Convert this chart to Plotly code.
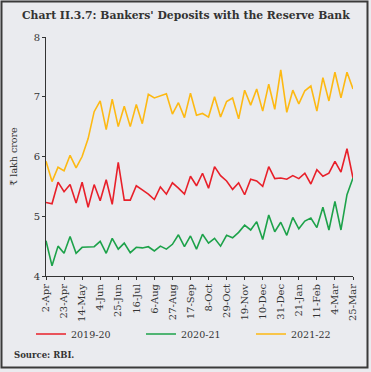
import pandas as pd
import plotly.graph_objects as go

# Weekly reporting Fridays (2-Apr ... 25-Mar), 52 weeks
weeks = pd.date_range("2021-04-02", periods=52, freq="7D")
week_labels = [f"{d.day}-{d.strftime('%b')}" for d in weeks]
tick_labels = week_labels[::3]

s2019_20 = [5.23, 5.21, 5.57, 5.41, 5.53, 5.22, 5.57, 5.15, 5.53, 5.26,
            5.61, 5.20, 5.90, 5.27, 5.27, 5.51, 5.44, 5.37, 5.28, 5.49,
            5.37, 5.56, 5.47, 5.37, 5.67, 5.51, 5.72, 5.47, 5.83, 5.68,
            5.59, 5.45, 5.56, 5.36, 5.62, 5.59, 5.50, 5.83, 5.63, 5.64,
            5.62, 5.68, 5.63, 5.72, 5.54, 5.78, 5.67, 5.72, 5.92, 5.74,
            6.13, 5.64]
s2020_21 = [4.59, 4.17, 4.50, 4.38, 4.66, 4.38, 4.48, 4.48, 4.49, 4.58,
            4.38, 4.63, 4.45, 4.55, 4.39, 4.48, 4.47, 4.49, 4.42, 4.50,
            4.45, 4.53, 4.69, 4.49, 4.67, 4.45, 4.70, 4.55, 4.63, 4.50,
            4.68, 4.64, 4.73, 4.85, 4.77, 4.91, 4.61, 5.02, 4.74, 4.90,
            4.68, 4.98, 4.79, 4.92, 4.97, 4.81, 5.15, 4.77, 5.25, 4.77,
            5.36, 5.64]
s2021_22 = [5.92, 5.58, 5.82, 5.76, 6.02, 5.81, 6.00, 6.30, 6.75, 6.93,
            6.45, 6.96, 6.50, 6.84, 6.50, 6.87, 6.55, 7.04, 6.98, 7.01,
            7.05, 6.71, 6.90, 6.65, 7.06, 6.69, 6.72, 6.66, 7.00, 6.66,
            6.92, 6.98, 6.63, 7.11, 6.86, 7.13, 6.76, 7.21, 6.79, 7.45,
            6.74, 7.11, 6.88, 7.10, 7.18, 6.76, 7.32, 6.93, 7.41, 6.98,
            7.41, 7.13]

series = [("2019-20", s2019_20, "#E8202A"),
          ("2020-21", s2020_21, "#1DA24A"),
          ("2021-22", s2021_22, "#FDB913")]

FONT = "DejaVu Serif"
W, H = 371, 372

def fx(x):
    return x / W

def fy(y):
    return 1 - y / H

fig = go.Figure()
for name, vals, col in series:
    fig.add_trace(go.Scatter(x=week_labels, y=vals, mode="lines", name=name,
                             line=dict(color=col, width=1.6)))

fig.update_layout(
    width=W, height=H,
    margin=dict(l=0, r=0, t=0, b=0, pad=0),
    paper_bgcolor="#EAEBEF",
    plot_bgcolor="#EAEBEF",
    font=dict(family=FONT, size=10, color="#333333"),
    title=dict(text="<b>Chart II.3.7: Bankers' Deposits with the Reserve Bank</b>",
               x=fx(22), xanchor="left", xref="paper",
               y=fy(15), yanchor="middle", yref="paper",
               font=dict(family=FONT, size=10.8, color="#333333")),
    showlegend=True,
    legend=dict(orientation="h", x=fx(31), xanchor="left", y=fy(334), yanchor="middle",
                font=dict(family=FONT, size=9.5, color="#333333"),
                entrywidth=65, entrywidthmode="pixels",
                bgcolor="rgba(0,0,0,0)", traceorder="normal"),
    shapes=[dict(type="rect", xref="paper", yref="paper",
                 x0=fx(1.5), x1=fx(367.5), y0=fy(367.5), y1=fy(1.5),
                 line=dict(color="#3a3a3a", width=2), layer="above")],
    annotations=[dict(text="<b>Source: RBI.</b>", xref="paper", yref="paper",
                      x=fx(12), y=fy(355), xanchor="left", yanchor="middle",
                      showarrow=False, font=dict(family=FONT, size=8.5, color="#333333"))],
)

fig.update_xaxes(type="category", range=[0, 51], domain=[fx(46), fx(353)],
                 tickmode="array", tickvals=tick_labels, ticktext=tick_labels,
                 tickangle=-90, ticks="outside", ticklen=3, tickcolor="#333333",
                 showline=True, linecolor="#333333", linewidth=1,
                 showgrid=False, zeroline=False, automargin=False,
                 tickfont=dict(family=FONT, size=10, color="#333333"))
fig.update_yaxes(range=[4, 8], dtick=1, domain=[fy(276), fy(37)],
                 ticks="outside", ticklen=3, tickcolor="#333333",
                 showline=True, linecolor="#333333", linewidth=1,
                 showgrid=False, zeroline=False, automargin=False,
                 title=dict(text="₹ lakh crore", standoff=14,
                            font=dict(family=FONT, size=9.5, color="#333333")),
                 tickfont=dict(family=FONT, size=10, color="#333333"))

fig.write_html("out.html",
               config={"displayModeBar": False},
               post_script="document.body.style.margin='0';document.body.style.overflow='hidden';")
